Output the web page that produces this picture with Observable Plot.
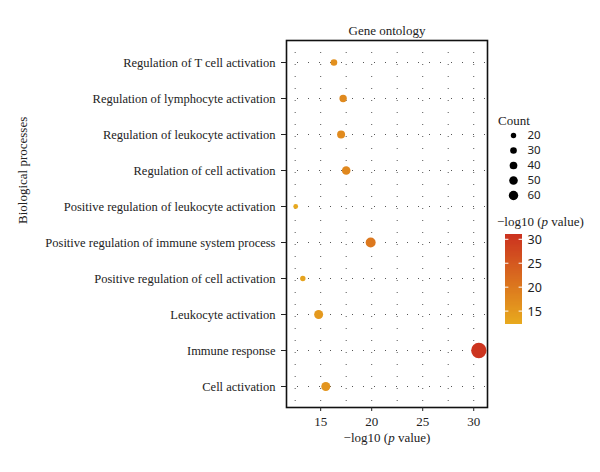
<!DOCTYPE html>
<html><head><meta charset="utf-8">
<script src="https://cdn.jsdelivr.net/npm/d3@7"></script>
<script src="https://cdn.jsdelivr.net/npm/@observablehq/plot@0.6"></script>
<style>
body{margin:0;background:#fff;font-family:"Liberation Serif",serif;color:#222;}
#wrap{position:relative;width:600px;height:472px;overflow:hidden;}
.abs{position:absolute;white-space:nowrap;line-height:1.1;}
</style></head><body><div id="wrap"></div>
<script>
const categories = [
  "Regulation of T cell activation",
  "Regulation of lymphocyte activation",
  "Regulation of leukocyte activation",
  "Regulation of cell activation",
  "Positive regulation of leukocyte activation",
  "Positive regulation of immune system process",
  "Positive regulation of cell activation",
  "Leukocyte activation",
  "Immune response",
  "Cell activation"
];
const pValues = [16.3, 17.2, 17.0, 17.5, 12.55, 19.9, 13.25, 14.8, 30.5, 15.5];
const counts  = [23, 27, 30, 33, 14, 40, 17, 35, 67, 35];
const xTicks = [15, 20, 25, 30];
const gridBreaks = [12.5, 15, 17.5, 20, 22.5, 25, 27.5, 30];
const countBreaks = [20, 30, 40, 50, 60];
const colorTicks = [15, 20, 25, 30];
const colorDomain = [12.2, 31.0];
const colorRange = ["#e8aa1e", "#cb311f"];

const wrap = document.getElementById("wrap");
const data = categories.map((c, i) => ({term: c, p: pValues[i], count: counts[i]}));
const font = "Liberation Serif, serif";

const main = Plot.plot({
  width: 600, height: 472,
  marginLeft: 286, marginRight: 113, marginTop: 40, marginBottom: 65,
  style: {fontFamily: font, fontSize: "12.5px", color: "#222", background: "white"},
  x: {domain: [11.65, 31.35], label: null},
  y: {type: "point", domain: categories, padding: 0.58, label: null},
  r: {type: "linear", domain: [10, 70], range: [2, 8]},
  color: {type: "linear", domain: colorDomain, range: colorRange},
  marks: [
    Plot.ruleX(gridBreaks, {stroke: "#555", strokeWidth: 1, strokeDasharray: "1,11"}),
    Plot.ruleY(categories, {stroke: "#555", strokeWidth: 1, strokeDasharray: "1,10"}),
    Plot.frame({stroke: "#111", strokeWidth: 1.6}),
    Plot.dot(data, {x: "p", y: "term", r: "count", fill: "p"}),
    Plot.axisX({ticks: xTicks, tickSize: 4, tickPadding: 5, fontSize: 13, label: null}),
    Plot.axisY({tickSize: 5, tickPadding: 6, fontSize: 12.5, label: null}),
    Plot.text(["Gene ontology"], {frameAnchor: "top", dy: -15, fontSize: 13}),
    Plot.text(["Biological processes"], {frameAnchor: "left", rotate: -90, dx: -264, fontSize: 13})
  ]
});
main.style.position = "absolute"; main.style.left = "0px"; main.style.top = "0px";
wrap.appendChild(main);

// x-axis title
const xl = document.createElement("div");
xl.className = "abs";
xl.style.cssText = "left:387px;top:431px;transform:translateX(-50%);font-size:13px;";
xl.innerHTML = "\u2212log10 (<i>p</i> value)";
wrap.appendChild(xl);

// Count legend
const ct = document.createElement("div");
ct.className = "abs";
ct.style.cssText = "left:498px;top:114px;font-size:13px;";
ct.textContent = "Count";
wrap.appendChild(ct);

const sizeLegend = Plot.plot({
  width: 100, height: 100, margin: 0,
  style: {fontFamily: font, fontSize: "11.5px", color: "#222", background: "transparent"},
  x: {axis: null, domain: [0, 1], range: [23, 37]},
  y: {axis: null, type: "point", domain: countBreaks, range: [24, 84], padding: 0},
  r: {type: "sqrt", domain: [0, 60], range: [0, 4.7]},
  marks: [
    Plot.dot(countBreaks, {x: () => 0, y: d => d, r: d => d, fill: "black"}),
    Plot.text(countBreaks, {x: () => 1, y: d => d, text: d => String(d), textAnchor: "start", fontSize: 11.5})
  ]
});
sizeLegend.style.cssText = "position:absolute;left:490px;top:111px;";
wrap.appendChild(sizeLegend);

// Color legend
const cl = document.createElement("div");
cl.className = "abs";
cl.style.cssText = "left:497px;top:215px;font-size:13px;";
cl.innerHTML = "\u2212log10 (<i>p</i> value)";
wrap.appendChild(cl);

const step = 0.25;
const steps = d3.range(colorDomain[0], colorDomain[1] - 1e-9, step);
const colorLegend = Plot.plot({
  width: 100, height: 110, margin: 0,
  style: {fontFamily: font, fontSize: "13px", color: "#222", background: "transparent"},
  x: {axis: null, domain: [0, 1], range: [15, 32]},
  y: {axis: null, domain: colorDomain, range: [96, 6]},
  color: {type: "linear", domain: colorDomain, range: colorRange},
  marks: [
    Plot.rect(steps, {x1: () => 0, x2: () => 1, y1: d => d, y2: d => Math.min(d + 2 * step, colorDomain[1]), fill: d => d + step / 2, shapeRendering: "crispEdges"}),
    Plot.ruleY(colorTicks, {y: d => d, x1: () => 0, x2: () => 0.2, stroke: "white", strokeWidth: 1}),
    Plot.ruleY(colorTicks, {y: d => d, x1: () => 0.8, x2: () => 1, stroke: "white", strokeWidth: 1}),
    Plot.text(colorTicks, {x: () => 1, y: d => d, dx: 5, dy: 1, text: d => String(d), textAnchor: "start", fontSize: 12.5})
  ]
});
colorLegend.style.cssText = "position:absolute;left:490px;top:228px;";
wrap.appendChild(colorLegend);
</script></body></html>
